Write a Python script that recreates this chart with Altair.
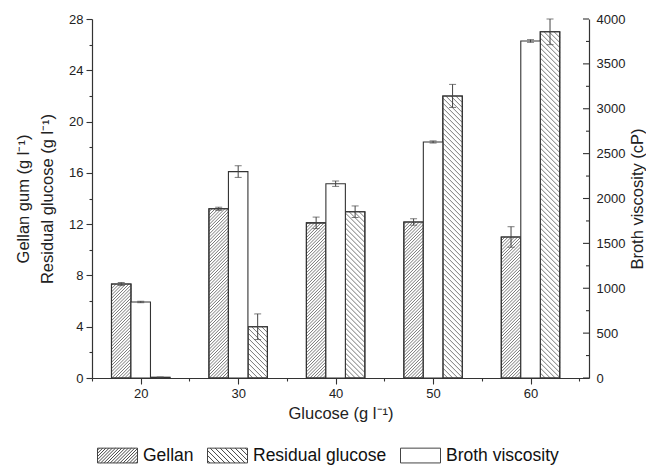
import altair as alt
import pandas as pd

# ---------------- data ----------------
conc = [20, 30, 40, 50, 60]
gellan = [7.33, 13.2, 12.1, 12.17, 11.0]
gellan_err = [0.12, 0.12, 0.45, 0.25, 0.8]
residual = [0.05, 4.0, 12.97, 22.0, 27.0]
residual_err = [0.03, 1.0, 0.45, 0.9, 1.0]
viscosity = [847, 2300, 2165, 2630, 3755]
viscosity_err = [8, 65, 30, 12, 15]

series_names = ["Gellan", "Residual glucose", "Broth viscosity"]
yr_ticks = list(range(0, 4001, 250))

# ---------------- layout constants (style only) ----------------
W, H = 497, 359
X_DOM = [15, 66]
YL_DOM = [0, 28]
YR_DOM = [0, 4000]
BAR_W = 2.0          # bar width in x-data units
KX = W / (X_DOM[1] - X_DOM[0])   # px per x unit
KY = H / (YL_DOM[1] - YL_DOM[0])  # px per left-y unit
FONT = "Liberation Sans"
EDGE = "#333333"
HATCH = "#555555"
TITLE_FS = 16.5
TICK_FS = 13

offsets = {"Gellan": -BAR_W, "Broth viscosity": 0.0, "Residual glucose": BAR_W}

def bar_frame(name, vals, errs):
    rows = []
    for c, v, e in zip(conc, vals, errs):
        mid = c + offsets[name]
        rows.append({"series": name, "conc": c, "x_s": mid - BAR_W / 2, "x_e": mid + BAR_W / 2,
                     "x_m": mid, "value": v, "lo": v - e, "hi": v + e})
    return pd.DataFrame(rows)

df_left = pd.concat([bar_frame("Gellan", gellan, gellan_err),
                     bar_frame("Residual glucose", residual, residual_err)], ignore_index=True)
df_right = bar_frame("Broth viscosity", viscosity, viscosity_err)

# hatch segments derived from the bar values
def hatch_rows(df, name, spacing, forward):
    rows = []
    for rec in df[df["series"] == name].to_dict("records"):
        x0 = rec["x_s"]
        w = (rec["x_e"] - rec["x_s"]) * KX
        h = rec["value"] * KY
        if h <= 1:
            continue
        if forward:
            c = -w
            while c < h:
                xa, xb = max(0.0, -c), min(w, h - c)
                if xb > xa:
                    rows.append({"hx": x0 + xa / KX, "hy": (xa + c) / KY,
                                 "hx2": x0 + xb / KX, "hy2": (xb + c) / KY})
                c += spacing
        else:
            c = 0.0
            while c < w + h:
                xa, xb = max(0.0, c - h), min(w, c)
                if xb > xa:
                    rows.append({"hx": x0 + xa / KX, "hy": (c - xa) / KY,
                                 "hx2": x0 + xb / KX, "hy2": (c - xb) / KY})
                c += spacing
    return rows

df_hatch = pd.DataFrame(hatch_rows(df_left, "Gellan", 3.2, True) +
                        hatch_rows(df_left, "Residual glucose", 5.0, False))

# legend symbol paths (unit square coords, scaled by sqrt(size)/2)
def sym_path(spacing, forward):
    a, b = 1.0, 0.37
    p = f"M{-a},{-b}H{a}V{b}H{-a}Z"
    if spacing is None:
        return p
    c = -(a + b) + spacing / 2
    while c < a + b:
        if forward:   # y_up = x + c
            xa, xb = max(-a, -b - c), min(a, b - c)
            if xb > xa:
                p += f"M{xa:.3f},{-(xa + c):.3f}L{xb:.3f},{-(xb + c):.3f}"
        else:         # y_up = -x + c
            xa, xb = max(-a, c - b), min(a, c + b)
            if xb > xa:
                p += f"M{xa:.3f},{-(c - xa):.3f}L{xb:.3f},{-(c - xb):.3f}"
        c += spacing
    return p

shape_range = [sym_path(0.16, True), sym_path(0.25, False), sym_path(None, True)]

# ---------------- axes ----------------
common = dict(grid=False, domainColor=EDGE, tickColor=EDGE,
              labelFont=FONT, labelFontSize=TICK_FS, labelColor="#222",
              titleFont=FONT, titleFontSize=TITLE_FS, titleFontWeight="normal", titleColor="#222",
              labelFlush=False)

x_axis = alt.Axis(values=list(range(15, 66, 5)), labelExpr="datum.value % 10 === 0 ? datum.label : ''",
                  tickSize={"condition": {"test": "datum.value % 10 === 0", "value": 6}, "value": 3},
                  title="Glucose (g l\u207b\u00b9)", labelPadding=3, titlePadding=5, **common)
x_scale = alt.Scale(domain=X_DOM, nice=False, zero=False)

yl_axis = alt.Axis(values=list(range(0, 29, 2)), labelExpr="datum.value % 4 === 0 ? datum.label : ''",
                   tickSize={"condition": {"test": "datum.value % 4 === 0", "value": 6}, "value": 3},
                   title=["Gellan gum (g l\u207b\u00b9)", "Residual glucose (g l\u207b\u00b9)"],
                   titleLineHeight=24, labelPadding=3, titlePadding=13, **common)
yl_scale = alt.Scale(domain=YL_DOM, nice=False)

yr_axis = alt.Axis(orient="right", values=yr_ticks,
                   labelExpr="datum.value % 500 === 0 ? datum.label : ''", format="d",
                   tickSize=0, labelPadding=7,
                   title="Broth viscosity (cP)", titleAngle=270, titleBaseline="top",
                   titlePadding=5, **common)
yr_scale = alt.Scale(domain=YR_DOM, nice=False)

X = lambda f: alt.X(f, type="quantitative", scale=x_scale, axis=x_axis)
YL = lambda f: alt.Y(f, type="quantitative", scale=yl_scale, axis=yl_axis)
YR = lambda f: alt.Y(f, type="quantitative", scale=yr_scale, axis=yr_axis)

# ---------------- left-scale layers ----------------
base_l = alt.Chart(df_left)
bars_l = base_l.mark_rect(fill="white", stroke=EDGE, strokeWidth=1.1).encode(
    x=X("x_s"), x2="x_e", y=YL("value"), y2=alt.datum(0))
hatch = alt.Chart(df_hatch).mark_rule(color=HATCH, strokeWidth=0.8).encode(
    x=X("hx"), x2="hx2", y=YL("hy"), y2="hy2")
outline_l = base_l.mark_rect(fillOpacity=0, stroke=EDGE, strokeWidth=1.1).encode(
    x=X("x_s"), x2="x_e", y=YL("value"), y2=alt.datum(0))
err_l = base_l.mark_rule(color="#444", strokeWidth=1).encode(x=X("x_m"), y=YL("lo"), y2="hi")
cap_lo_l = base_l.mark_tick(color="#444", orient="horizontal", size=7, thickness=1).encode(x=X("x_m"), y=YL("lo"))
cap_hi_l = base_l.mark_tick(color="#444", orient="horizontal", size=7, thickness=1).encode(x=X("x_m"), y=YL("hi"))

legend_df = pd.DataFrame({"series": series_names})
legend_layer = alt.Chart(legend_df).mark_point(filled=False, color="#444", opacity=0).encode(
    x=alt.value(0), y=alt.value(0),
    shape=alt.Shape("series:N", scale=alt.Scale(domain=series_names, range=shape_range),
                    legend=alt.Legend(title=None, orient="none", direction="horizontal",
                                      legendX=5, legendY=416,
                                      symbolSize=1600, symbolOpacity=1, symbolStrokeColor="#444",
                                      symbolFillColor="white", symbolStrokeWidth=1,
                                      labelFont=FONT, labelFontSize=17.5, labelColor="#111",
                                      labelOffset=5, columnPadding=11, padding=0)))

left = alt.layer(bars_l, hatch, outline_l, err_l, cap_lo_l, cap_hi_l, legend_layer)

# ---------------- right-scale layers ----------------
base_r = alt.Chart(df_right)
bars_r = base_r.mark_rect(fill="white", stroke=EDGE, strokeWidth=1.1).encode(
    x=X("x_s"), x2="x_e", y=YR("value"), y2=alt.datum(0))
err_r = base_r.mark_rule(color="#444", strokeWidth=1).encode(x=X("x_m"), y=YR("lo"), y2="hi")
cap_lo_r = base_r.mark_tick(color="#444", orient="horizontal", size=7, thickness=1).encode(x=X("x_m"), y=YR("lo"))
cap_hi_r = base_r.mark_tick(color="#444", orient="horizontal", size=7, thickness=1).encode(x=X("x_m"), y=YR("hi"))

# inward-pointing ticks of the right axis
rt_base = alt.Chart(pd.DataFrame({"tv": yr_ticks}))
rticks_major = rt_base.transform_filter("datum.tv % 500 === 0").mark_rule(
    color=EDGE, strokeWidth=1.1).encode(y=YR("tv"), x=alt.value(W - 6), x2=alt.value(W))
rticks_minor = rt_base.transform_filter("datum.tv % 500 !== 0").mark_rule(
    color=EDGE, strokeWidth=1.1).encode(y=YR("tv"), x=alt.value(W - 3), x2=alt.value(W))

right = alt.layer(bars_r, err_r, cap_lo_r, cap_hi_r, rticks_major, rticks_minor)

chart = alt.layer(left, right).resolve_scale(y="independent").properties(
    width=W, height=H,
    autosize=alt.AutoSizeParams(type="none"),
    padding={"left": 92, "top": 19, "right": 57, "bottom": 87},
    background="white",
).configure_view(stroke=None).configure_axis(domainWidth=1.2, tickWidth=1.1)

chart.save("out.html", embed_options={"renderer": "svg", "actions": False})
